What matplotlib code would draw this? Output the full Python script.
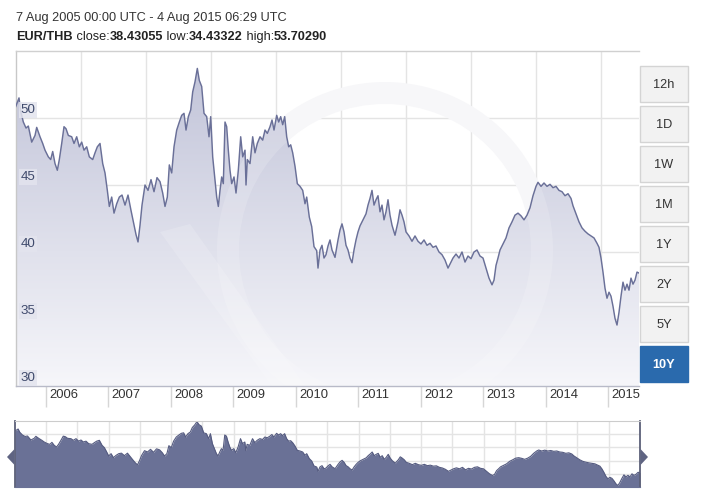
import matplotlib
matplotlib.use('Agg')
import matplotlib.pyplot as plt
import matplotlib.transforms as mtrans
import numpy as np
from matplotlib.patches import PathPatch, Rectangle, Polygon, Wedge

plt.rcParams['font.family'] = ['Liberation Sans', 'DejaVu Sans']

# ---------------- data ----------------
years = [2005.520, 2005.573, 2005.600, 2005.642, 2005.685, 2005.722, 2005.776, 2005.829,
         2005.856, 2005.909, 2005.952, 2005.989, 2006.042, 2006.080, 2006.112, 2006.149,
         2006.186, 2006.218, 2006.256, 2006.293, 2006.325, 2006.362, 2006.416, 2006.453,
         2006.496, 2006.538, 2006.576, 2006.613, 2006.656, 2006.698, 2006.752, 2006.789,
         2006.826, 2006.869, 2006.912, 2006.949, 2006.986, 2007.018, 2007.056, 2007.093,
         2007.136, 2007.178, 2007.221, 2007.269, 2007.317, 2007.365, 2007.413, 2007.445,
         2007.477, 2007.509, 2007.541, 2007.589, 2007.637, 2007.685, 2007.733, 2007.781,
         2007.829, 2007.872, 2007.909, 2007.946, 2007.978, 2008.016, 2008.053, 2008.096,
         2008.138, 2008.176, 2008.213, 2008.245, 2008.282, 2008.320, 2008.352, 2008.389,
         2008.426, 2008.458, 2008.496, 2008.533, 2008.576, 2008.613, 2008.640, 2008.672,
         2008.709, 2008.736, 2008.762, 2008.789, 2008.816, 2008.842, 2008.869, 2008.896,
         2008.922, 2008.949, 2008.976, 2009.013, 2009.045, 2009.082, 2009.120, 2009.152,
         2009.189, 2009.205, 2009.226, 2009.269, 2009.312, 2009.349, 2009.386, 2009.429,
         2009.472, 2009.509, 2009.546, 2009.589, 2009.621, 2009.653, 2009.696, 2009.728,
         2009.760, 2009.792, 2009.824, 2009.856, 2009.888, 2009.920, 2009.952, 2009.989,
         2010.026, 2010.069, 2010.112, 2010.149, 2010.176, 2010.218, 2010.256, 2010.293,
         2010.336,
         2010.357, 2010.389, 2010.421, 2010.453, 2010.485, 2010.517, 2010.549, 2010.581,
         2010.629, 2010.677, 2010.709, 2010.741, 2010.773, 2010.805, 2010.837, 2010.869,
         2010.901, 2010.933, 2010.965, 2010.997, 2011.029, 2011.077, 2011.125, 2011.157,
         2011.189, 2011.221, 2011.253, 2011.285, 2011.317, 2011.349, 2011.381, 2011.413,
         2011.445, 2011.477, 2011.509, 2011.541, 2011.589, 2011.637, 2011.669, 2011.701,
         2011.733, 2011.765, 2011.813, 2011.861, 2011.909, 2011.957, 2012.005, 2012.053,
         2012.101, 2012.149, 2012.197, 2012.245, 2012.293, 2012.341, 2012.389, 2012.437,
         2012.469, 2012.517, 2012.565, 2012.613, 2012.661, 2012.709, 2012.757, 2012.805,
         2012.853, 2012.901, 2012.949, 2012.997, 2013.045, 2013.093, 2013.141, 2013.173,
         2013.205, 2013.237, 2013.269, 2013.317, 2013.365, 2013.413, 2013.461, 2013.509,
         2013.557, 2013.605, 2013.653, 2013.701, 2013.749, 2013.797, 2013.845, 2013.877,
         2013.925, 2013.973, 2014.021, 2014.069, 2014.117, 2014.165, 2014.213, 2014.261,
         2014.309, 2014.357, 2014.405, 2014.437, 2014.485, 2014.533, 2014.581, 2014.629,
         2014.677, 2014.725, 2014.773, 2014.821, 2014.853, 2014.885, 2014.917, 2014.949,
         2014.981, 2015.013, 2015.045, 2015.077, 2015.109, 2015.141, 2015.173, 2015.205,
         2015.237, 2015.269, 2015.301, 2015.333, 2015.365, 2015.397, 2015.429, 2015.461,
         2015.493]
rates = [50.85, 51.5, 50.5, 49.7, 49.25, 49.4, 48.2, 48.7,
         49.3, 48.6, 48.1, 47.6, 47.1, 46.9, 47.5, 46.6,
         46.1, 46.9, 48.1, 49.35, 49.2, 48.7, 48.6, 48.1,
         48.6, 47.85, 48.2, 47.6, 47.85, 47.1, 46.9, 47.4,
         47.85, 48.1, 46.6, 45.9, 44.6, 43.4, 44.1, 42.9,
         43.6, 44.1, 44.25, 43.5, 44.25, 43.1, 42.0, 41.3,
         40.75, 42.0, 43.5, 45.0, 44.6, 45.4, 44.5, 45.55,
         45.25, 44.4, 43.4, 44.1, 46.5, 45.9, 47.85, 49.1,
         49.7, 50.2, 50.35, 49.1, 50.1, 50.6, 51.95, 52.7,
         53.7, 52.8, 52.35, 50.35, 50.1, 48.6, 50.1, 47.1,
         45.4, 44.1, 43.4, 44.6, 45.6, 45.1, 49.7, 49.35,
         47.6, 46.1, 45.1, 45.6, 44.4, 46.1, 48.6, 47.1,
         47.6, 45.0, 46.9, 46.6, 48.6, 47.4, 48.1, 48.6,
         48.35, 49.1, 48.85, 49.35, 49.85, 49.1, 50.2, 49.7,
         50.1, 49.5, 50.1, 48.6, 47.85, 48.0, 47.4, 46.4,
         45.1, 44.9, 44.6, 43.6, 44.1, 42.6, 41.9, 40.4,
         40.1,
         38.8, 40.15, 40.5, 39.55, 39.8, 40.45, 40.9, 40.15,
         39.6, 40.9, 41.65, 42.1, 41.5, 40.5, 40.15, 39.55,
         39.2, 40.15, 40.9, 41.5, 41.95, 42.4, 42.85, 43.5,
         44.0, 44.6, 43.5, 43.9, 44.2, 43.0, 43.5, 42.4,
         43.0, 43.9, 42.75, 42.0, 41.25, 42.25, 43.15, 42.75,
         42.25, 41.5, 41.2, 40.8, 41.2, 40.8, 40.6, 40.9,
         40.5, 40.65, 40.35, 40.45, 40.0, 39.8, 39.4, 38.8,
         39.1, 39.55, 39.85, 39.55, 40.0, 39.25, 39.7, 39.5,
         40.0, 40.15, 39.7, 39.55, 38.8, 38.05, 37.55, 37.9,
         39.0, 39.55, 40.15, 40.6, 41.05, 41.8, 42.25, 42.75,
         42.9, 42.7, 42.4, 42.75, 43.3, 44.2, 44.9, 45.2,
         44.9, 45.15, 44.9, 45.05, 44.8, 44.9, 44.6, 44.5,
         44.2, 44.35, 44.0, 43.45, 42.85, 42.25, 41.8, 41.55,
         41.35, 41.2, 41.05, 40.65, 40.35, 39.55, 38.5, 37.3,
         36.55, 37.0, 36.7, 35.95, 35.05, 34.55, 35.5, 36.7,
         37.75, 37.15, 37.6, 37.15, 38.05, 37.6, 37.9, 38.5,
         38.43]
year_ticks = [2006, 2007, 2008, 2009, 2010, 2011, 2012, 2013, 2014, 2015]
y_ticks = [30, 35, 40, 45, 50]
buttons = ['12h', '1D', '1W', '1M', '1Y', '2Y', '5Y', '10Y']
active_button = '10Y'
header_range = '7 Aug 2005 00:00 UTC - 4 Aug 2015 06:29 UTC'
pair = 'EUR/THB'
stats = [('close:', '38.43055'), ('low:', '34.43322'), ('high:', '53.70290')]

# ---------------- layout ----------------
W, H = 701, 493
fig = plt.figure(figsize=(W / 100, H / 100), dpi=100)
fig.patch.set_facecolor('white')


def frac(x0, y0, x1, y1):
    return [x0 / W, 1 - y1 / H, (x1 - x0) / W, (y1 - y0) / H]


ov = fig.add_axes([0, 0, 1, 1], zorder=10)
ov.set_xlim(0, W)
ov.set_ylim(H, 0)
ov.axis('off')

XMIN, XMAX = 2005.52, 2015.493
YMIN, YMAX = 30, 55
LINE_C = '#6a7098'
GRID_C = '#e4e4e4'

ax = fig.add_axes(frac(15.7, 51, 639, 386), zorder=1)
ax.set_facecolor('white')
ax.spines['right'].set_visible(False)
ax.spines['top'].set_color('#d0d0d0')
ax.spines['left'].set_color('#c8c8c8')
ax.spines['bottom'].set_color('#b8bac8')
for s in ax.spines.values():
    s.set_linewidth(1)

# grid
for v in y_ticks[1:]:
    ax.axhline(v, color=GRID_C, lw=1, zorder=0.6)
for k in range(1, 10):
    ax.plot([k * 65 / 623.3] * 2, [0, 1], transform=ax.transAxes, color=GRID_C, lw=1, zorder=0.6)


def wm_shapes():
    return [Wedge((385, 250), 168, 0, 360, width=22),
            Polygon([(160, 232), (190, 224), (305, 386), (272, 386)], closed=True)]


# watermark (faint xe logo) behind the area
for p in wm_shapes():
    p.set_transform(ov.transData)
    p.set_facecolor('#f7f7f9')
    p.set_edgecolor('none')
    p.set_zorder(0.7)
    ax.add_patch(p)

# gradient area
fb = ax.fill_between(years, rates, YMIN, color='none', lw=0)
path = fb.get_paths()[0]
clip = PathPatch(path, transform=ax.transData, fc='none', ec='none')
ax.add_patch(clip)
top_c = np.array([0.75, 0.76, 0.845])
bot_c = np.array([0.965, 0.965, 0.98])
t = np.linspace(0, 1, 256)[:, None]
grad = (bot_c[None, :] * (1 - t) + top_c[None, :] * t)[:, None, :]
im = ax.imshow(grad, extent=[XMIN, XMAX, YMIN, YMAX], origin='lower', aspect='auto',
               zorder=1, interpolation='bilinear')
im.set_clip_path(clip)

for p in wm_shapes():
    p.set_transform(ov.transData)
    p.set_facecolor((1, 1, 1, 0.16))
    p.set_edgecolor('none')
    p.set_zorder(1.5)
    ax.add_patch(p)
    p.set_clip_path(clip)

ax.plot(years, rates, color=LINE_C, lw=1.05, zorder=3, solid_joinstyle='round')

ax.set_xlim(XMIN, XMAX)
ax.set_ylim(YMIN, YMAX)
ax.set_yticks([])
ax.set_xticks(year_ticks)
ax.tick_params(axis='x', length=15, width=1, color='#d6d6d6', labelbottom=False, direction='out')

xtr = mtrans.offset_copy(mtrans.blended_transform_factory(ax.transData, ax.transAxes),
                         fig=fig, x=3.5, y=-3, units='dots')
for yr in year_ticks:
    ax.text(yr, 0, str(yr), transform=xtr, ha='left', va='top', fontsize=9.4,
            color='#333333', clip_on=False)

ytr = mtrans.offset_copy(mtrans.blended_transform_factory(ax.transAxes, ax.transData),
                         fig=fig, x=5, y=8, units='dots')
for v in y_ticks:
    ax.text(0, v, str(v), transform=ytr, ha='left', va='center', fontsize=9.6,
            color='#3f4a6c', zorder=5,
            bbox=dict(boxstyle='square,pad=0.12', fc='#e3e4ee', ec='none', alpha=0.85))

# ---------------- navigator ----------------
NAV_LO, NAV_HI = 34.1, 53.9
nav = fig.add_axes(frac(14.8, 421, 640, 487), zorder=2)
nav.set_facecolor('white')
for k in range(1, 20):
    nav.plot([k / 20] * 2, [0, 1], transform=nav.transAxes, color=GRID_C, lw=1, zorder=0.5)
for k in range(1, 5):
    nav.plot([0, 1], [k / 5] * 2, transform=nav.transAxes, color=GRID_C, lw=1, zorder=0.5)
nav.fill_between(years, rates, NAV_LO, color='#6a7196', lw=0, zorder=1)
nav.plot(years, rates, color='#555b80', lw=0.8, zorder=2)
nav.set_xlim(XMIN, XMAX)
nav.set_ylim(NAV_LO, NAV_HI)
nav.set_xticks([])
nav.set_yticks([])
nav.spines['top'].set_color('#cccccc')
nav.spines['bottom'].set_color('#6a7196')
nav.spines['left'].set_color('#5c6078')
nav.spines['right'].set_color('#5c6078')
nav.spines['left'].set_linewidth(1.3)
nav.spines['right'].set_linewidth(1.3)

hc = '#5f6482'
ov.add_patch(Polygon([(14.5, 449), (7, 457), (14.5, 465)], closed=True, fc=hc, ec='none'))
ov.add_patch(Polygon([(640.5, 449), (648, 457), (640.5, 465)], closed=True, fc=hc, ec='none'))

# ---------------- buttons ----------------
for i, b in enumerate(buttons):
    y0 = 66 + 40 * i
    active = (b == active_button)
    ov.add_patch(Rectangle((640, y0), 48, 36, fc='#2a6aad' if active else '#f2f2f2',
                           ec='#2a6aad' if active else '#d4d4d4', lw=1))
    ov.text(664, y0 + 18.5, b, ha='center', va='center', fontsize=9.2,
            color='white' if active else '#333333', fontweight='bold' if active else 'normal')

# ---------------- header ----------------
ov.text(16, 18, header_range, ha='left', va='center', fontsize=9.2, color='#333333')
fig.canvas.draw()
renderer = fig.canvas.get_renderer()
xpos = 16


def put(txt, bold):
    global xpos
    tt = ov.text(xpos, 37, txt, ha='left', va='center', fontsize=9.2, color='#222222',
                 fontweight='bold' if bold else 'normal')
    bb = tt.get_window_extent(renderer)
    xpos += bb.width


put(pair, True)
for lab, val in stats:
    put(' ' + lab, False)
    put(val, True)

fig.savefig('out.png', dpi=100, facecolor='white')
